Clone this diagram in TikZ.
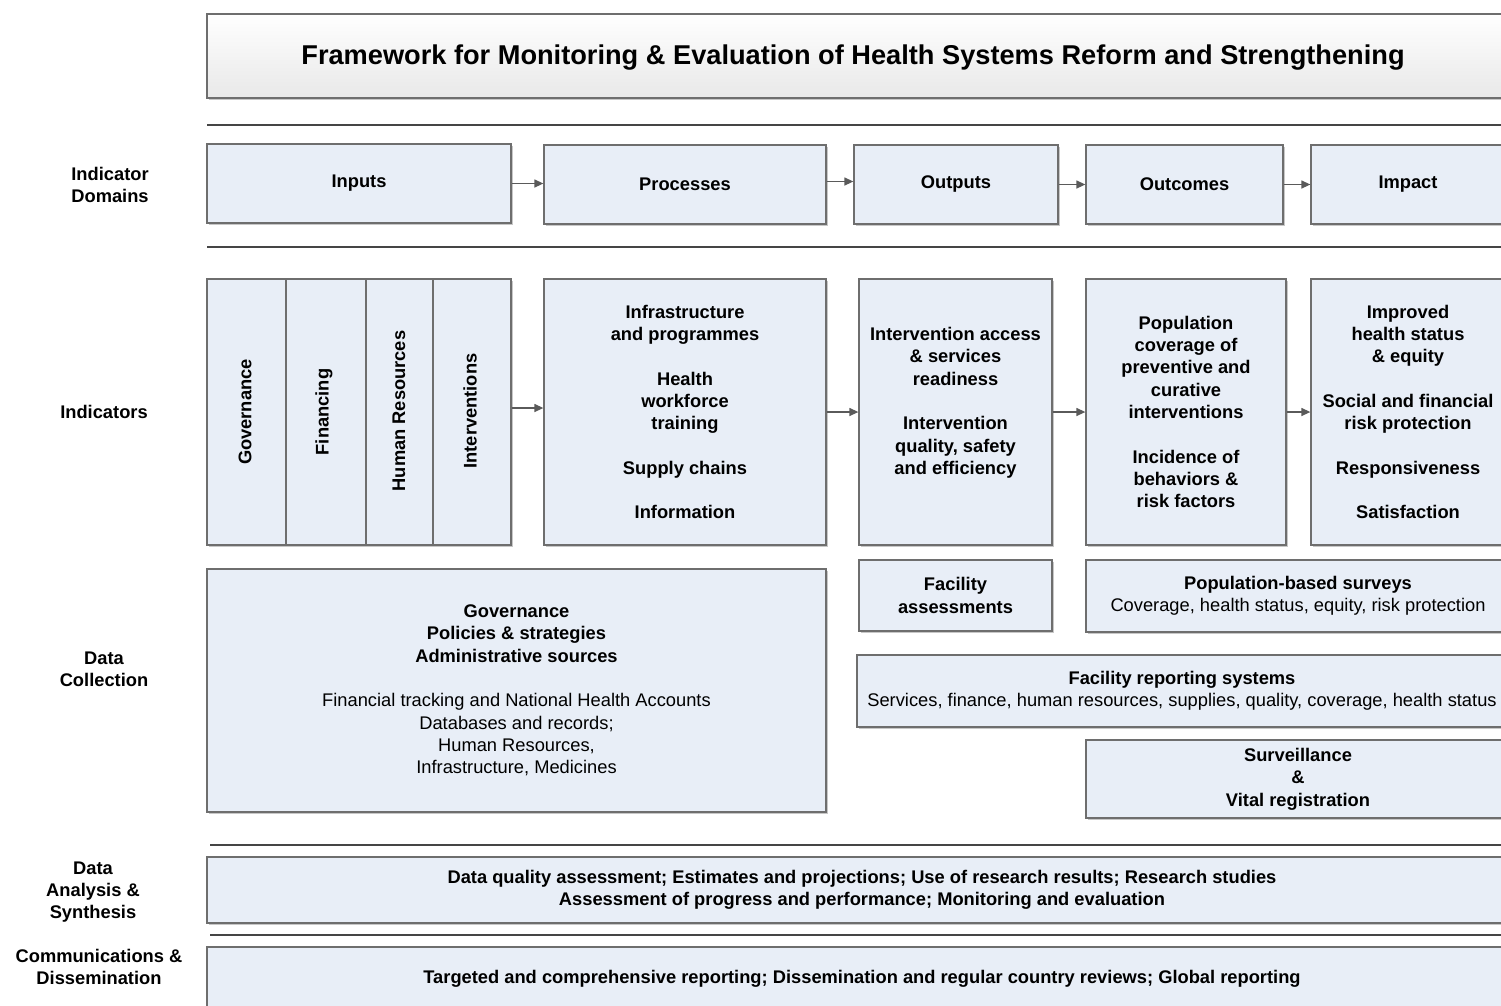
\documentclass[tikz,border=0pt]{standalone}
\usepackage{fontspec}
\setmainfont{Liberation Sans}
\usetikzlibrary{arrows.meta,shadows}
\definecolor{boxfill}{HTML}{E8EEF7}
\definecolor{boxline}{HTML}{6E6E6E}
\definecolor{sepline}{HTML}{454545}
\definecolor{arrowc}{HTML}{5A5A5A}
\newcommand\myfs{\fontsize{18.3}{22.3}\selectfont}
\newcommand\mytitlefs{\fontsize{27.2}{32}\selectfont}
\begin{document}
\begin{tikzpicture}[x=1pt,y=-1pt,
  box/.style={draw=boxline, line width=1.3pt, fill=boxfill, inner sep=0pt,
    align=center, font=\myfs\bfseries,
    drop shadow={shadow xshift=1.6pt, shadow yshift=-1.6pt, fill=black, opacity=0.22}},
  txt/.style={inner sep=0pt, align=center, font=\myfs\bfseries},
  sep/.style={draw=sepline, line width=1.6pt},
  arr/.style={draw=arrowc, line width=1.3pt, -{Triangle[length=9pt,width=8pt]}}]
\useasboundingbox (0,0) rectangle (1501,1005);
\clip (0,0) rectangle (1501,1005);
\fill[white] (0,0) rectangle (1501,1005);

% title
\node[box, top color=white, bottom color=black!9, minimum width=1320pt, minimum height=84pt] (titlebox) at (867,56) {};
\node[txt, font=\mytitlefs\bfseries] (title) at (853,58) {Framework for Monitoring \& Evaluation of Health Systems Reform and Strengthening};

% separators
\coordinate (s1a) at (207,125); \coordinate (s1b) at (1501,125);
\coordinate (s2a) at (207,247); \coordinate (s2b) at (1501,247);
\coordinate (s3a) at (210,845); \coordinate (s3b) at (1501,845);
\coordinate (s4a) at (210,935); \coordinate (s4b) at (1501,935);
\draw[sep] (s1a) -- (s1b);
\draw[sep] (s2a) -- (s2b);
\draw[sep] (s3a) -- (s3b);
\draw[sep] (s4a) -- (s4b);

% left labels
\node[txt] (lab1) at (110,185) {Indicator\\Domains};
\node[txt] (lab2) at (104,412) {Indicators};
\node[txt] (lab3) at (104,669) {Data\\Collection};
\node[txt] (lab4) at (93,892) {Data\\Analysis \&\\Synthesis};
\node[txt] (lab5) at (99,967) {Communications \&\\Dissemination};

% row 1
\node[box, minimum width=304pt, minimum height=79pt] (inputs) at (359,183.5) {Inputs};
\node[box, minimum width=282pt, minimum height=79pt] (processes) at (685,184.5) {Processes};
\node[box, minimum width=204pt, minimum height=79pt] (outputs) at (956,184.5) {Outputs};
\node[box, minimum width=197pt, minimum height=79pt] (outcomes) at (1184.5,184.5) {Outcomes};
\node[box, minimum width=194pt, minimum height=79pt] (impact) at (1408,184.5) {Impact};

\draw[arr] (inputs.east) -- (inputs.east -| processes.west);
\draw[arr] (processes.east) ++(0,-3) coordinate (pe) -- (pe -| outputs.west);
\draw[arr] (outputs.east) -- (outputs.east -| outcomes.west);
\draw[arr] (outcomes.east) -- (outcomes.east -| impact.west);

% row 2
\node[box, minimum width=79pt, minimum height=266pt] (gov) at (246.5,412) {};
\node[box, minimum width=80pt, minimum height=266pt] (fin) at (326,412) {};
\node[box, minimum width=67pt, minimum height=266pt] (hr) at (399.5,412) {};
\node[box, minimum width=78pt, minimum height=266pt] (int) at (472,412) {};
\node[txt, rotate=90] (govt) at (245,412) {Governance};
\node[txt, rotate=90] (fint) at (324,412) {Financing};
\node[txt, rotate=90] (hrt) at (399,411) {Human Resources};
\node[txt, rotate=90] (intt) at (470,411) {Interventions};

\node[box, minimum width=282pt, minimum height=266pt] (proc2) at (685,412)
  {Infrastructure\\and programmes\\[22.3pt]Health\\workforce\\training\\[22.3pt]Supply chains\\[22.3pt]Information};
\node[box, minimum width=193pt, minimum height=266pt] (out2) at (955.5,412)
  {Intervention access\\\& services\\readiness\\[22.3pt]Intervention\\quality, safety\\and efficiency\\\mbox{}};
\node[box, minimum width=200pt, minimum height=266pt] (outc2) at (1186,412)
  {Population\\coverage of\\preventive and\\curative\\interventions\\[22.3pt]Incidence of\\behaviors \&\\risk factors};
\node[box, minimum width=194pt, minimum height=266pt] (imp2) at (1408,412)
  {Improved\\health status\\\& equity\\[22.3pt]Social and financial\\risk protection\\[22.3pt]Responsiveness\\[22.3pt]Satisfaction};

\draw[arr] (int.east) ++(0,-4) coordinate (ie) -- (ie -| proc2.west);
\draw[arr] (proc2.east) -- (proc2.east -| out2.west);
\draw[arr] (out2.east) -- (out2.east -| outc2.west);
\draw[arr] (outc2.east) -- (outc2.east -| imp2.west);

% data collection
\node[box, minimum width=619pt, minimum height=243pt] (dc) at (516.5,690.5)
  {Governance\\Policies \& strategies\\Administrative sources\\[22.3pt]
   {\mdseries Financial tracking and National Health Accounts}\\
   {\mdseries Databases and records;}\\
   {\mdseries Human Resources,}\\
   {\mdseries Infrastructure, Medicines}};
\node[box, minimum width=193pt, minimum height=71pt] (fa) at (955.5,595.5) {Facility\\assessments};
\node[box, minimum width=424pt, minimum height=72pt] (ps) at (1298,596)
  {Population-based surveys\\{\mdseries Coverage, health status, equity, risk protection}};
\node[box, minimum width=650pt, minimum height=72pt] (fr) at (1182,691)
  {Facility reporting systems\\{\mdseries Services, finance, human resources, supplies, quality, coverage, health status}};
\node[box, minimum width=424pt, minimum height=78pt] (sv) at (1298,779)
  {Surveillance\\\&\\Vital registration};

% analysis and communication
\node[box, minimum width=1310pt, minimum height=66pt] (da) at (862,890)
  {Data quality assessment; Estimates and projections; Use of research results; Research studies\\Assessment of progress and performance; Monitoring and evaluation};
\node[box, minimum width=1310pt, minimum height=63pt] (cm) at (862,978.5)
  {Targeted and comprehensive reporting; Dissemination and regular country reviews; Global reporting};
\end{tikzpicture}
\end{document}
